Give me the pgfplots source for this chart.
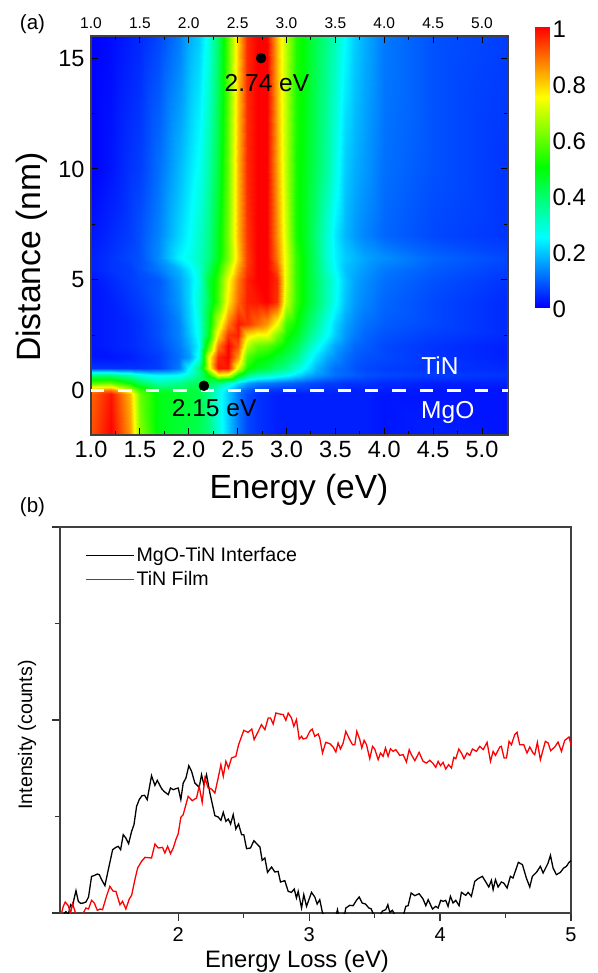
\documentclass[border=0pt]{standalone}
\usepackage{fontspec}
\setmainfont{Liberation Sans}
\usepackage{pgfplots}
\pgfplotsset{compat=1.18}
\pgfplotsset{colormap={eels}{rgb=(0,0,1) rgb=(0,1,1) rgb=(0,1,0) rgb=(1,1,0) rgb=(1,0,0)}}
\newcommand{\fs}[1]{\fontsize{#1}{#1}\selectfont}
\begin{document}
\begin{tikzpicture}[x=1pt,y=1pt]
\useasboundingbox (0,0) rectangle (597,-973);
% ---- heat map
\begin{axis}[at={(91pt,-36pt)},anchor=north west,scale only axis,width=417pt,height=399pt,
  hide axis,view={0}{90},xmin=1,xmax=5.266,ymin=-2,ymax=16,colormap name=eels,point meta min=0,point meta max=1]
\addplot3[surf,shader=interp,mesh/rows=17,mesh/cols=28,mesh/ordering=x varies] coordinates {
(1.0,-2,.92)(1.2,-2,1)(1.4,-2,.85)(1.5,-2,.63)(1.7,-2,.48)(1.9,-2,.45)(2.0,-2,.44)(2.1,-2,.42)(2.2,-2,.38)(2.3,-2,.29)(2.4,-2,.2)(2.5,-2,.12)(2.6,-2,.07)(2.7,-2,.05)(2.8,-2,.04)(2.9,-2,.03)(3.0,-2,.03)(3.1,-2,.03)(3.2,-2,.03)(3.3,-2,.03)(3.4,-2,.03)(3.5,-2,.03)(3.6,-2,.03)(3.7,-2,.03)(3.8,-2,.03)(4.0,-2,.02)(4.5,-2,.03)(5.27,-2,.02)
(1.0,-.15,.9)(1.2,-.15,.98)(1.4,-.15,.82)(1.5,-.15,.6)(1.7,-.15,.48)(1.9,-.15,.46)(2.0,-.15,.45)(2.1,-.15,.43)(2.2,-.15,.37)(2.3,-.15,.28)(2.4,-.15,.2)(2.5,-.15,.12)(2.6,-.15,.07)(2.7,-.15,.05)(2.8,-.15,.04)(2.9,-.15,.03)(3.0,-.15,.03)(3.1,-.15,.03)(3.2,-.15,.03)(3.3,-.15,.03)(3.4,-.15,.03)(3.5,-.15,.03)(3.6,-.15,.03)(3.7,-.15,.03)(3.8,-.15,.03)(4.0,-.15,.02)(4.5,-.15,.02)(5.27,-.15,.02)
(1.0,.05,.85)(1.2,.05,.88)(1.4,.05,.7)(1.5,.05,.56)(1.7,.05,.45)(1.9,.05,.44)(2.0,.05,.44)(2.1,.05,.43)(2.2,.05,.37)(2.3,.05,.29)(2.4,.05,.21)(2.5,.05,.13)(2.6,.05,.09)(2.7,.05,.07)(2.8,.05,.06)(2.9,.05,.05)(3.0,.05,.05)(3.1,.05,.05)(3.2,.05,.05)(3.3,.05,.04)(3.4,.05,.04)(3.5,.05,.04)(3.6,.05,.04)(3.7,.05,.03)(3.8,.05,.03)(4.0,.05,.03)(4.5,.05,.02)(5.27,.05,.02)
(1.0,.35,.58)(1.2,.35,.6)(1.4,.35,.5)(1.5,.35,.42)(1.7,.35,.33)(1.9,.35,.36)(2.0,.35,.4)(2.1,.35,.42)(2.2,.35,.44)(2.3,.35,.37)(2.4,.35,.3)(2.5,.35,.22)(2.6,.35,.16)(2.7,.35,.13)(2.8,.35,.12)(2.9,.35,.11)(3.0,.35,.1)(3.1,.35,.09)(3.2,.35,.08)(3.3,.35,.07)(3.4,.35,.06)(3.5,.35,.06)(3.6,.35,.05)(3.7,.35,.05)(3.8,.35,.05)(4.0,.35,.04)(4.5,.35,.03)(5.27,.35,.03)
(1.0,.7,.38)(1.2,.7,.38)(1.4,.7,.33)(1.5,.7,.28)(1.7,.7,.24)(1.9,.7,.25)(2.0,.7,.3)(2.1,.7,.37)(2.2,.7,.5)(2.3,.7,.74)(2.4,.7,.72)(2.5,.7,.5)(2.6,.7,.38)(2.7,.7,.33)(2.8,.7,.31)(2.9,.7,.28)(3.0,.7,.26)(3.1,.7,.22)(3.2,.7,.18)(3.3,.7,.15)(3.4,.7,.13)(3.5,.7,.11)(3.6,.7,.1)(3.7,.7,.09)(3.8,.7,.08)(4.0,.7,.07)(4.5,.7,.06)(5.27,.7,.05)
(1.0,1,.05)(1.2,1,.05)(1.4,1,.05)(1.5,1,.05)(1.7,1,.06)(1.9,1,.12)(2.0,1,.25)(2.1,1,.38)(2.2,1,.7)(2.3,1,.98)(2.4,1,.98)(2.5,1,.72)(2.6,1,.52)(2.7,1,.46)(2.8,1,.44)(2.9,1,.39)(3.0,1,.36)(3.1,1,.3)(3.2,1,.24)(3.3,1,.18)(3.4,1,.14)(3.5,1,.11)(3.6,1,.1)(3.7,1,.08)(3.8,1,.07)(4.0,1,.06)(4.5,1,.05)(5.27,1,.04)
(1.0,1.5,.02)(1.2,1.5,.02)(1.4,1.5,.03)(1.5,1.5,.04)(1.7,1.5,.06)(1.9,1.5,.11)(2.0,1.5,.15)(2.1,1.5,.27)(2.2,1.5,.72)(2.3,1.5,.96)(2.4,1.5,1)(2.5,1.5,.85)(2.6,1.5,.58)(2.7,1.5,.52)(2.8,1.5,.5)(2.9,1.5,.46)(3.0,1.5,.42)(3.1,1.5,.37)(3.2,1.5,.29)(3.3,1.5,.22)(3.4,1.5,.17)(3.5,1.5,.14)(3.6,1.5,.11)(3.7,1.5,.09)(3.8,1.5,.08)(4.0,1.5,.07)(4.5,1.5,.05)(5.27,1.5,.03)
(1.0,2,.02)(1.2,2,.03)(1.4,2,.04)(1.5,2,.05)(1.7,2,.07)(1.9,2,.12)(2.0,2,.17)(2.1,2,.25)(2.2,2,.56)(2.3,2,.88)(2.4,2,1)(2.5,2,.92)(2.6,2,.68)(2.7,2,.6)(2.8,2,.58)(2.9,2,.53)(3.0,2,.48)(3.1,2,.42)(3.2,2,.34)(3.3,2,.27)(3.4,2,.21)(3.5,2,.16)(3.6,2,.13)(3.7,2,.1)(3.8,2,.09)(4.0,2,.07)(4.5,2,.05)(5.27,2,.03)
(1.0,2.5,.02)(1.2,2.5,.03)(1.4,2.5,.04)(1.5,2.5,.05)(1.7,2.5,.08)(1.9,2.5,.13)(2.0,2.5,.19)(2.1,2.5,.27)(2.2,2.5,.46)(2.3,2.5,.78)(2.4,2.5,.95)(2.5,2.5,.97)(2.6,2.5,.78)(2.7,2.5,.74)(2.8,2.5,.74)(2.9,2.5,.62)(3.0,2.5,.52)(3.1,2.5,.47)(3.2,2.5,.39)(3.3,2.5,.32)(3.4,2.5,.26)(3.5,2.5,.2)(3.6,2.5,.15)(3.7,2.5,.12)(3.8,2.5,.1)(4.0,2.5,.08)(4.5,2.5,.06)(5.27,2.5,.04)
(1.0,3,.02)(1.2,3,.03)(1.4,3,.04)(1.5,3,.05)(1.7,3,.08)(1.9,3,.13)(2.0,3,.2)(2.1,3,.28)(2.2,3,.45)(2.3,3,.7)(2.4,3,.88)(2.5,3,.98)(2.6,3,.95)(2.7,3,.9)(2.8,3,.85)(2.9,3,.74)(3.0,3,.56)(3.1,3,.5)(3.2,3,.42)(3.3,3,.35)(3.4,3,.28)(3.5,3,.21)(3.6,3,.16)(3.7,3,.13)(3.8,3,.11)(4.0,3,.09)(4.5,3,.07)(5.27,3,.04)
(1.0,4,.02)(1.2,4,.03)(1.4,4,.05)(1.5,4,.06)(1.7,4,.09)(1.9,4,.15)(2.0,4,.21)(2.1,4,.3)(2.2,4,.42)(2.3,4,.56)(2.4,4,.77)(2.5,4,.9)(2.6,4,.97)(2.7,4,.98)(2.8,4,1)(2.9,4,.95)(3.0,4,.7)(3.1,4,.55)(3.2,4,.47)(3.3,4,.4)(3.4,4,.33)(3.5,4,.26)(3.6,4,.19)(3.7,4,.15)(3.8,4,.13)(4.0,4,.1)(4.5,4,.07)(5.27,4,.04)
(1.0,5,.02)(1.2,5,.04)(1.4,5,.06)(1.5,5,.07)(1.7,5,.09)(1.9,5,.16)(2.0,5,.21)(2.1,5,.28)(2.2,5,.44)(2.3,5,.55)(2.4,5,.74)(2.5,5,.88)(2.6,5,.97)(2.7,5,1)(2.8,5,1)(2.9,5,.96)(3.0,5,.72)(3.1,5,.55)(3.2,5,.47)(3.3,5,.4)(3.4,5,.33)(3.5,5,.27)(3.6,5,.2)(3.7,5,.16)(3.8,5,.14)(4.0,5,.11)(4.5,5,.08)(5.27,5,.05)
(1.0,5.5,.03)(1.2,5.5,.05)(1.4,5.5,.06)(1.5,5.5,.08)(1.7,5.5,.12)(1.9,5.5,.18)(2.0,5.5,.23)(2.1,5.5,.29)(2.2,5.5,.4)(2.3,5.5,.52)(2.4,5.5,.68)(2.5,5.5,.84)(2.6,5.5,.95)(2.7,5.5,1)(2.8,5.5,1)(2.9,5.5,.92)(3.0,5.5,.72)(3.1,5.5,.55)(3.2,5.5,.47)(3.3,5.5,.39)(3.4,5.5,.31)(3.5,5.5,.25)(3.6,5.5,.19)(3.7,5.5,.17)(3.8,5.5,.15)(4.0,5.5,.12)(4.5,5.5,.09)(5.27,5.5,.06)
(1.0,6,.03)(1.2,6,.05)(1.4,6,.07)(1.5,6,.08)(1.7,6,.14)(1.9,6,.24)(2.0,6,.27)(2.1,6,.31)(2.2,6,.37)(2.3,6,.48)(2.4,6,.62)(2.5,6,.8)(2.6,6,.94)(2.7,6,1)(2.8,6,1)(2.9,6,.88)(3.0,6,.72)(3.1,6,.55)(3.2,6,.47)(3.3,6,.39)(3.4,6,.3)(3.5,6,.24)(3.6,6,.2)(3.7,6,.18)(3.8,6,.16)(4.0,6,.14)(4.5,6,.1)(5.27,6,.07)
(1.0,7,.02)(1.2,7,.04)(1.4,7,.06)(1.5,7,.08)(1.7,7,.13)(1.9,7,.21)(2.0,7,.25)(2.1,7,.3)(2.2,7,.36)(2.3,7,.47)(2.4,7,.62)(2.5,7,.82)(2.6,7,.95)(2.7,7,1)(2.8,7,1)(2.9,7,.86)(3.0,7,.7)(3.1,7,.52)(3.2,7,.46)(3.3,7,.38)(3.4,7,.3)(3.5,7,.23)(3.6,7,.18)(3.7,7,.15)(3.8,7,.13)(4.0,7,.1)(4.5,7,.07)(5.27,7,.05)
(1.0,10,0)(1.2,10,.02)(1.4,10,.05)(1.5,10,.06)(1.7,10,.11)(1.9,10,.18)(2.0,10,.22)(2.1,10,.26)(2.2,10,.33)(2.3,10,.44)(2.4,10,.6)(2.5,10,.82)(2.6,10,.96)(2.7,10,1)(2.8,10,1)(2.9,10,.84)(3.0,10,.68)(3.1,10,.52)(3.2,10,.47)(3.3,10,.41)(3.4,10,.35)(3.5,10,.28)(3.6,10,.2)(3.7,10,.17)(3.8,10,.15)(4.0,10,.11)(4.5,10,.08)(5.27,10,.05)
(1.0,16,0)(1.2,16,.01)(1.4,16,.03)(1.5,16,.04)(1.7,16,.07)(1.9,16,.12)(2.0,16,.17)(2.1,16,.2)(2.2,16,.27)(2.3,16,.4)(2.4,16,.58)(2.5,16,.8)(2.6,16,.96)(2.7,16,1)(2.8,16,1)(2.9,16,.82)(3.0,16,.68)(3.1,16,.53)(3.2,16,.48)(3.3,16,.42)(3.4,16,.37)(3.5,16,.32)(3.6,16,.25)(3.7,16,.2)(3.8,16,.17)(4.0,16,.12)(4.5,16,.08)(5.27,16,.06)
};
\end{axis}
% ---- frame, ticks and marks over the heat map
\begin{axis}[at={(91pt,-36pt)},anchor=north west,scale only axis,width=417pt,height=399pt,
  xmin=1,xmax=5.266,ymin=-2,ymax=16,
  xtick={1,1.5,...,5},ytick={0,5,10,15},minor x tick num=1,minor y tick num=1,
  tick align=inside,major tick length=7pt,minor tick length=4pt,
  every tick/.style={black,line width=1pt},
  axis line style={black!75,line width=1.3pt},
  /pgf/number format/assume math mode=true,
  xticklabel style={/pgf/number format/fixed,/pgf/number format/fixed zerofill,/pgf/number format/precision=1,font=\fs{23.5}},
  yticklabel style={font=\fs{23.5}},
  xticklabel pos=bottom,yticklabel pos=left,
  x tick label style={yshift=-3pt},
  y tick label style={xshift=-3pt},
  clip=false]
\addplot[white,line width=2.6pt,dash pattern=on 13.4pt off 14pt,forget plot] coordinates {(1,0)(5.266,0)};
\addplot[only marks,mark=*,mark size=5pt,black,forget plot] coordinates {(2.74,15)(2.155,0.22)};
\node[font=\fs{24.5},text=black] at (axis cs:2.80,13.87) {2.74 eV};
\node[font=\fs{24.5},text=black] at (axis cs:2.26,-0.8) {2.15 eV};
\node[font=\fs{24.5},text=white] at (axis cs:4.57,1.15) {TiN};
\node[font=\fs{24.5},text=white] at (axis cs:4.65,-1.0) {MgO};
\end{axis}
% ---- top tick labels
\begin{axis}[at={(91pt,-36pt)},anchor=north west,scale only axis,width=417pt,height=399pt,
  xmin=1,xmax=5.266,ymin=-2,ymax=16,
  xtick={1,1.5,...,5},ytick=\empty,major tick length=0pt,
  axis line style={draw=none},
  /pgf/number format/assume math mode=true,
  xticklabel pos=top,
  xticklabel style={/pgf/number format/fixed,/pgf/number format/fixed zerofill,/pgf/number format/precision=1,font=\fs{15.5},yshift=4pt}]
\end{axis}
% ---- colour bar
\begin{axis}[at={(535pt,-27pt)},anchor=north west,scale only axis,width=15pt,height=280pt,
  xmin=0,xmax=1,ymin=0,ymax=1,view={0}{90},colormap name=eels,point meta min=0,point meta max=1,
  xtick=\empty,ytick={0,0.2,0.4,0.6,0.8,1},yticklabels={0,0.2,0.4,0.6,0.8,1},
  major tick length=0pt,axis line style={draw=none},
  yticklabel pos=right,
  yticklabel style={font=\fs{24},anchor=west,xshift=-1pt,yshift=-2pt}]
\addplot3[surf,shader=interp,mesh/rows=2,mesh/cols=2,mesh/ordering=x varies] coordinates {(0,0,0)(1,0,0)(0,1,1)(1,1,1)};
\end{axis}
% ---- lower panel
\begin{axis}[at={(60pt,-527pt)},anchor=north west,scale only axis,width=511pt,height=386pt,
  xmin=1.097,xmax=5,ymin=0,ymax=1158,
  xtick={2,3,4,5},minor x tick num=1,ytick={0,579,1158},yticklabels={},minor y tick num=1,
  tick align=outside,major tick length=8pt,minor tick length=4.5pt,
  tick pos=left,
  every tick/.style={black!80,line width=1.2pt},
  axis line style={black!75,line width=1.3pt},
  /pgf/number format/assume math mode=true,
  xticklabel style={font=\fs{20},yshift=-3pt},
  legend style={at={(0.049,0.953)},anchor=north west,draw=none,fill=none,font=\fs{19.6},row sep=4.5pt,inner sep=0pt,
    nodes={inner sep=2pt,anchor=west}},
  legend cell align=left,
  legend image code/.code={\draw[#1] (0pt,0pt) -- (48pt,0pt);}]
\addplot[black,line width=1.3pt] coordinates {
(1.127,-2)(1.142,4)(1.160,-5)(1.178,25)(1.193,20)(1.203,40)(1.219,67)(1.237,35)(1.254,29)(1.275,30)(1.295,33)(1.315,48)(1.338,110)(1.356,112)(1.382,117)(1.397,115)(1.415,100)(1.440,82)(1.466,130)(1.499,190)(1.524,197)(1.542,200)(1.560,190)(1.580,235)(1.600,225)(1.621,208)(1.644,245)(1.662,265)(1.682,320)(1.702,340)(1.723,352)(1.743,353)(1.763,340)(1.796,412)(1.822,383)(1.840,398)(1.873,373)(1.891,365)(1.924,355)(1.941,375)(1.962,370)(1.982,373)(2.000,375)(2.020,340)(2.038,390)(2.059,405)(2.081,442)(2.102,425)(2.127,390)(2.160,377)(2.178,415)(2.196,385)(2.216,415)(2.242,360)(2.280,292)(2.305,288)(2.326,278)(2.344,302)(2.364,275)(2.382,282)(2.400,267)(2.420,295)(2.440,252)(2.461,267)(2.484,235)(2.501,235)(2.522,193)(2.552,195)(2.578,217)(2.611,203)(2.624,198)(2.641,158)(2.662,165)(2.682,122)(2.713,138)(2.738,123)(2.763,125)(2.781,93)(2.814,97)(2.840,65)(2.865,62)(2.886,72)(2.903,45)(2.916,65)(2.942,15)(2.959,55)(2.980,20)(3.018,62)(3.043,48)(3.061,27)(3.081,40)(3.102,0)
(3.145,-20)(3.204,-10)(3.216,10)(3.227,-8)(3.272,-2)(3.280,15)(3.310,23)(3.336,22)(3.361,38)(3.382,48)(3.405,30)(3.430,27)(3.456,15)(3.473,13)(3.489,-2)(3.527,-15)(3.560,6)(3.585,10)(3.601,25)(3.616,2)(3.636,8)(3.654,-5)(3.718,-10)(3.738,20)(3.756,22)(3.779,60)(3.807,52)(3.840,58)(3.870,42)(3.891,22)(3.909,40)(3.942,12)(3.967,20)(3.985,15)(4.005,38)(4.023,35)(4.043,38)(4.061,20)(4.079,50)(4.099,30)(4.120,38)(4.145,22)(4.163,62)(4.196,53)(4.214,62)(4.239,50)(4.265,95)(4.290,103)(4.323,110)(4.354,90)(4.372,78)(4.392,98)(4.405,70)(4.423,100)(4.443,78)(4.468,93)(4.486,90)(4.512,75)(4.537,110)(4.557,105)(4.598,152)(4.629,145)(4.659,105)(4.685,78)(4.705,110)(4.736,122)(4.766,140)(4.787,120)(4.825,150)(4.843,173)(4.863,135)(4.888,115)(4.919,122)(4.944,135)(4.965,140)(4.985,152)(5.003,158)};
\addlegendentry{MgO-TiN Interface}
\addplot[red,line width=1.3pt] coordinates {
(1.109,0)(1.122,20)(1.137,33)(1.160,22)(1.178,0)(1.193,28)(1.214,2)(1.237,-12)(1.275,0)(1.295,15)(1.315,12)(1.338,38)(1.359,30)(1.382,8)(1.402,12)(1.422,10)(1.448,45)(1.478,80)(1.504,65)(1.524,65)(1.555,25)(1.575,35)(1.600,12)(1.626,42)(1.644,53)(1.669,100)(1.690,135)(1.720,155)(1.746,167)(1.796,165)(1.822,207)(1.847,195)(1.880,197)(1.898,180)(1.919,200)(1.941,178)(1.962,195)(1.982,220)(2.000,238)(2.020,287)(2.038,295)(2.076,350)(2.107,337)(2.140,345)(2.160,380)(2.183,332)(2.204,405)(2.229,375)(2.254,372)(2.280,360)(2.305,405)(2.326,445)(2.344,410)(2.364,455)(2.384,435)(2.407,465)(2.440,470)(2.461,505)(2.501,548)(2.534,542)(2.562,552)(2.580,520)(2.611,545)(2.636,565)(2.662,550)(2.687,585)(2.705,585)(2.725,567)(2.746,600)(2.776,597)(2.802,595)(2.822,578)(2.840,600)(2.865,585)(2.883,560)(2.903,580)(2.924,522)(2.942,530)
(2.954,522)(2.980,525)(3.005,545)(3.023,552)(3.043,530)(3.069,537)(3.081,525)(3.102,480)(3.127,512)(3.158,508)(3.183,498)(3.204,483)(3.221,510)(3.239,492)(3.260,510)(3.280,545)(3.310,520)(3.331,505)(3.349,505)(3.364,545)(3.387,520)(3.402,495)(3.420,518)(3.438,505)(3.463,463)(3.484,500)(3.501,492)(3.527,460)(3.545,480)(3.565,470)(3.583,495)(3.603,470)(3.621,493)(3.641,485)(3.662,490)(3.692,473)(3.718,475)(3.743,453)(3.764,490)(3.781,475)(3.807,457)(3.840,482)(3.870,455)(3.896,450)(3.921,458)(3.947,448)(3.967,437)(3.985,455)(4.003,442)(4.023,452)(4.043,432)(4.066,445)(4.087,435)(4.105,467)(4.120,463)(4.143,492)(4.163,480)(4.183,463)(4.206,480)(4.227,473)(4.247,492)(4.278,485)(4.303,500)(4.329,490)(4.359,512)(4.385,455)(4.405,485)(4.423,473)(4.456,498)(4.468,500)(4.489,465)(4.507,465)(4.527,515)(4.545,505)(4.570,535)(4.588,542)(4.608,505)(4.639,505)(4.664,480)(4.685,498)(4.710,480)(4.723,475)(4.743,512)(4.766,460)(4.804,515)(4.825,510)(4.845,487)(4.876,498)(4.901,513)(4.927,485)(4.952,518)(4.985,528)(5.003,500)};
\addlegendentry{TiN Film}
\end{axis}
% ---- texts outside the axes
\node[font=\fs{20.5}] at (32.5,-24) {(a)};
\node[font=\fs{20.5}] at (32.5,-507) {(b)};
\node[font=\fs{33.5}] at (299,-490) {Energy (eV)};
\node[font=\fs{33.7},rotate=90] at (32,-257) {Distance (nm)};
\node[font=\fs{23.8}] at (297,-961) {Energy Loss (eV)};
\node[font=\fs{19.6},rotate=90] at (27,-735) {Intensity (counts)};
\end{tikzpicture}
\end{document}
